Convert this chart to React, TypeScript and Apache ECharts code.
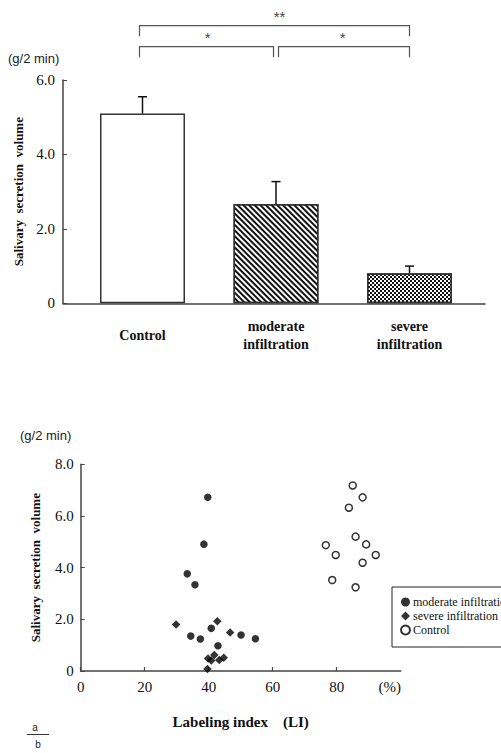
import React, { useEffect, useRef } from 'react';
import * as echarts from 'echarts';

// ---------- Data: panel a (bar chart) ----------
const barCategories = ['Control', 'moderate\ninfiltration', 'severe\ninfiltration'];
const barPositions = [1, 2, 3];
const barMeans = [5.1, 2.67, 0.81];
const barUpperErrors = [0.45, 0.6, 0.19];
const barYTickValues = [0, 2, 4, 6];

// ---------- Data: panel b (scatter) ----------
const moderateInfiltration = [
  [39.7, 6.72], [38.5, 4.91], [33.3, 3.76], [35.7, 3.34], [34.4, 1.35],
  [37.4, 1.24], [40.8, 1.65], [42.9, 0.98], [50.1, 1.39], [54.6, 1.25],
];
const severeInfiltration = [
  [29.8, 1.8], [42.7, 1.93], [46.7, 1.49], [39.8, 0.48], [40.8, 0.41],
  [41.75, 0.62], [43.3, 0.43], [44.7, 0.51], [39.6, 0.08],
];
const controlPoints = [
  [85.0, 7.18], [88.1, 6.72], [83.8, 6.32], [85.9, 5.2], [89.2, 4.9],
  [76.6, 4.87], [79.7, 4.49], [92.2, 4.49], [88.1, 4.19], [78.6, 3.52], [85.9, 3.24],
];
const scatterXTicks = [0, 20, 40, 60, 80];

const SERIF = 'Liberation Serif';
const SANS = 'Liberation Sans';
const AXIS_COLOR = '#444';

export default function App() {
  const ref = useRef<HTMLDivElement>(null);

  useEffect(() => {
    if (!ref.current) return;
    const chart = echarts.init(ref.current, undefined, { renderer: 'svg' });

    const fmtY = (v: number) => (v === 0 ? '0' : v.toFixed(1));

    const option: any = {
      animation: false,
      backgroundColor: '#fff',
      textStyle: { fontFamily: SERIF },
      grid: [
        { left: 63, top: 80, width: 422, height: 223.3 },
        { left: 80.7, top: 464.3, width: 320, height: 206.7 },
      ],
      xAxis: [
        {
          gridIndex: 0,
          type: 'value',
          min: 0.4045,
          max: 3.5655,
          splitLine: { show: false },
          axisLine: { show: true, onZero: false, lineStyle: { color: AXIS_COLOR, width: 1.5 } },
          axisTick: { show: false },
          axisLabel: {
            customValues: barPositions,
            formatter: (v: number) => barCategories[Math.round(v) - 1] || '',
            fontFamily: SERIF,
            fontWeight: 'bold',
            fontSize: 14,
            lineHeight: 18,
            color: '#111',
            verticalAlign: 'middle',
            margin: 32,
          },
        },
        {
          gridIndex: 1,
          type: 'value',
          min: 0,
          max: 100,
          interval: 20,
          splitLine: { show: false },
          axisLine: { show: true, onZero: false, lineStyle: { color: AXIS_COLOR, width: 1.5 } },
          axisTick: {
            show: true,
            inside: true,
            length: 4,
            customValues: scatterXTicks,
            lineStyle: { color: AXIS_COLOR, width: 1.2 },
          },
          axisLabel: {
            formatter: (v: number) => (v === 100 ? '{p|(%)}' : String(v)),
            rich: { p: { fontFamily: SERIF, fontSize: 15, color: '#111', padding: [0, 22, 0, 0] } },
            fontFamily: SERIF,
            fontSize: 15,
            color: '#111',
            margin: 8,
          },
          name: 'Labeling index\u3000(LI)',
          nameLocation: 'middle',
          nameGap: 43,
          nameTextStyle: { fontFamily: SERIF, fontWeight: 'bold', fontSize: 15, color: '#111' },
        },
      ],
      yAxis: [
        {
          gridIndex: 0,
          type: 'value',
          min: 0,
          max: 6,
          interval: 2,
          splitLine: { show: false },
          axisLine: { show: true, lineStyle: { color: AXIS_COLOR, width: 1.5 } },
          axisTick: { show: true, inside: true, length: 4, customValues: barYTickValues, lineStyle: { color: AXIS_COLOR } },
          axisLabel: { formatter: fmtY, fontFamily: SERIF, fontSize: 15, color: '#111', margin: 8 },
          name: 'Salivary  secretion  volume',
          nameLocation: 'middle',
          nameGap: 32,
          nameTextStyle: { fontFamily: SERIF, fontWeight: 'bold', fontSize: 13, color: '#111' },
        },
        {
          gridIndex: 1,
          type: 'value',
          min: 0,
          max: 8,
          interval: 2,
          splitLine: { show: false },
          axisLine: { show: true, lineStyle: { color: AXIS_COLOR, width: 1.5 } },
          axisTick: { show: true, inside: true, length: 4, lineStyle: { color: AXIS_COLOR } },
          axisLabel: { formatter: fmtY, fontFamily: SERIF, fontSize: 15, color: '#111', margin: 7 },
          name: 'Salivary  secretion  volume',
          nameLocation: 'middle',
          nameGap: 39,
          nameTextStyle: { fontFamily: SERIF, fontWeight: 'bold', fontSize: 13, color: '#111' },
        },
      ],
      legend: {
        orient: 'vertical',
        left: 392,
        top: 587,
        padding: [9, 20, 11, 8],
        itemGap: 2,
        itemWidth: 9,
        itemHeight: 9,
        borderColor: '#222',
        borderWidth: 1,
        data: ['moderate infiltration', 'severe infiltration', 'Control'],
        textStyle: { fontFamily: SERIF, fontSize: 12, color: '#111', padding: [0, 0, 0, -2] },
      },
      series: [
        {
          type: 'bar',
          xAxisIndex: 0,
          yAxisIndex: 0,
          barWidth: 85,
          data: barPositions.map((p, i) => {
            const base: any = { value: [p, barMeans[i]] };
            if (i === 0) {
              base.itemStyle = { color: '#fff', borderColor: '#333', borderWidth: 1.5 };
            } else if (i === 1) {
              base.itemStyle = {
                color: '#fff',
                borderColor: '#333',
                borderWidth: 1.5,
                decal: {
                  symbol: 'rect',
                  symbolSize: 1,
                  color: '#111',
                  backgroundColor: '#fff',
                  dashArrayX: [1, 0],
                  dashArrayY: [2, 2],
                  rotation: Math.PI / 4,
                },
              };
            } else {
              base.itemStyle = {
                color: '#fff',
                borderColor: '#333',
                borderWidth: 1.5,
                decal: {
                  symbol: 'rect',
                  symbolSize: 1,
                  color: '#111',
                  backgroundColor: '#fff',
                  dashArrayX: [[2, 2], [0, 2, 2, 0]],
                  dashArrayY: [2, 0],
                  rotation: 0,
                },
              };
            }
            return base;
          }),
        },
        {
          type: 'custom',
          xAxisIndex: 0,
          yAxisIndex: 0,
          z: 5,
          data: barPositions.map((p, i) => [p, barMeans[i], barUpperErrors[i]]),
          renderItem: (_params: any, api: any) => {
            const x = api.value(0);
            const m = api.value(1);
            const e = api.value(2);
            const p0 = api.coord([x, m]);
            const p1 = api.coord([x, m + e]);
            const st = { stroke: '#111', lineWidth: 1.5 };
            return {
              type: 'group',
              children: [
                { type: 'line', shape: { x1: p0[0], y1: p0[1], x2: p1[0], y2: p1[1] }, style: st },
                { type: 'line', shape: { x1: p1[0] - 4.5, y1: p1[1], x2: p1[0] + 4.5, y2: p1[1] }, style: st },
              ],
            };
          },
        },
        {
          name: 'moderate infiltration',
          type: 'scatter',
          xAxisIndex: 1,
          yAxisIndex: 1,
          symbol: 'circle',
          symbolSize: 7.5,
          itemStyle: { color: '#000' },
          data: moderateInfiltration,
        },
        {
          name: 'severe infiltration',
          type: 'scatter',
          xAxisIndex: 1,
          yAxisIndex: 1,
          symbol: 'diamond',
          symbolSize: 8.5,
          itemStyle: { color: '#000' },
          data: severeInfiltration,
        },
        {
          name: 'Control',
          type: 'scatter',
          xAxisIndex: 1,
          yAxisIndex: 1,
          symbol: 'circle',
          symbolSize: 7,
          itemStyle: { color: '#fff', borderColor: '#000', borderWidth: 1.5 },
          data: controlPoints,
        },
      ],
    };

    chart.setOption(option);

    // Significance brackets, positioned from the bar axis
    const cx = barPositions.map((p) => (chart.convertToPixel({ gridIndex: 0 } as any, [p, 0]) as number[])[0]);
    const x1 = cx[0] - 3;
    const x2 = cx[1];
    const x3 = cx[2];
    const lineStyle = { stroke: '#555', lineWidth: 1.2, fill: 'none' };
    const outerY = 25.7;
    const innerY = 46.7;
    const leg = 10.5;
    const starStyle = { fill: '#444', font: `15px ${SANS}`, textAlign: 'center', textVerticalAlign: 'middle' };

    chart.setOption({
      graphic: [
        { type: 'polyline', shape: { points: [[x1, outerY + leg], [x1, outerY], [x3, outerY], [x3, outerY + leg]] }, style: lineStyle },
        { type: 'polyline', shape: { points: [[x1, innerY + leg], [x1, innerY], [x2 - 2.5, innerY], [x2 - 2.5, innerY + leg]] }, style: lineStyle },
        { type: 'polyline', shape: { points: [[x2 + 2.5, innerY + leg], [x2 + 2.5, innerY], [x3, innerY], [x3, innerY + leg]] }, style: lineStyle },
        { type: 'text', x: (x1 + x3) / 2 + 5, y: 16, style: { ...starStyle, text: '**' } },
        { type: 'text', x: (x1 + x2) / 2, y: 37, style: { ...starStyle, text: '*' } },
        { type: 'text', x: (x2 + x3) / 2, y: 37, style: { ...starStyle, text: '*' } },
        { type: 'text', x: 8, y: 58, style: { text: '(g/2 min)', fill: '#222', font: `13px ${SANS}`, textVerticalAlign: 'middle' } },
        { type: 'text', x: 20, y: 435, style: { text: '(g/2 min)', fill: '#222', font: `13px ${SANS}`, textVerticalAlign: 'middle' } },
        { type: 'text', x: 35, y: 727, style: { text: 'a', fill: '#222', font: `10px ${SANS}`, textAlign: 'center', textVerticalAlign: 'middle' } },
        { type: 'line', shape: { x1: 27, y1: 734.5, x2: 49, y2: 734.5 }, style: { stroke: '#333', lineWidth: 1 } },
        { type: 'text', x: 38, y: 744, style: { text: 'b', fill: '#222', font: `10px ${SANS}`, textAlign: 'center', textVerticalAlign: 'middle' } },
      ],
    });

    return () => chart.dispose();
  }, []);

  return (
    <div
      ref={ref}
      style={{ position: 'absolute', left: 0, top: 0, width: 501, height: 753, background: '#fff' }}
    />
  );
}
